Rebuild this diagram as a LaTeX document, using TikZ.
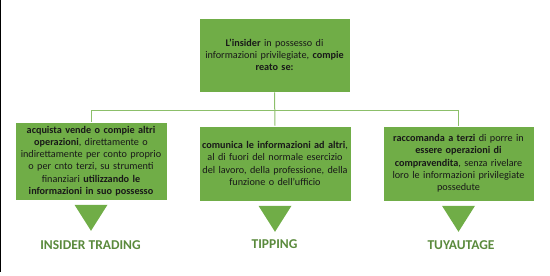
\documentclass[tikz,border=0pt]{standalone}
\usepackage{fontspec}
\setmainfont{Carlito}
\usepackage{tikz}
\usetikzlibrary{positioning,calc}
\definecolor{boxgreen}{HTML}{70AD47}
\definecolor{linegreen}{HTML}{8CBF6A}
\definecolor{labgreen}{HTML}{5A8A3C}

\begin{document}
\begin{tikzpicture}[x=1pt,y=-1pt,
  box/.style={fill=boxgreen,draw=white,line width=0.6pt,align=center,inner sep=1pt,
    font=\fontsize{10.2}{12.3}\selectfont,text=black!90},
  conn/.style={linegreen,line width=1pt},
  lab/.style={font=\fontsize{13.5}{16}\selectfont\bfseries,text=labgreen}]
\useasboundingbox (0,0) rectangle (550,276);
\draw[black,line width=1.2pt] (0.6,0) -- (0.6,272);
\node[box,text width=149,minimum height=74] (top) at (274.5,55)
  {\textbf{L'insider} in possesso di\\ informazioni privilegiate, \textbf{compie}\\ \textbf{reato se:}};
\node[box,text width=150,minimum height=78] (lbox) at (91,161)
  {\textbf{acquista vende o compie altri}\\ \textbf{operazioni}, direttamente o\\ indirettamente per conto proprio\\ o per cnto terzi, su strumenti\\ finanziari \textbf{utilizzando le}\\ \textbf{informazioni in suo possesso}};
\node[box,text width=150,minimum height=75] (mbox) at (275,163.5)
  {\textbf{comunica le informazioni ad altri},\\ al di fuori del normale esercizio\\ del lavoro, della professione, della\\ funzione o dell'ufficio};
\node[box,text width=149,minimum height=75] (rbox) at (458.5,163.5)
  {\textbf{raccomanda a terzi} di porre in\\ \textbf{essere operazioni di}\\ \textbf{compravendita}, senza rivelare\\ loro le informazioni privilegiate\\ possedute};
% connectors
\coordinate (jl) at (lbox.north |- 0,110);
\coordinate (jr) at (rbox.north |- 0,110);
\draw[conn] (top.south) -- (mbox.north);
\draw[conn] (jl) -- (jr);
\draw[conn] (jl) -- (lbox.north);
\draw[conn] (jr) -- (rbox.north);
% arrows and results
\foreach \b in {lbox,mbox,rbox}
  \fill[boxgreen] ($(\b.south)+(-16.5,4.5)$) -- ++(33,0) -- ++(-16.5,26) -- cycle;
\node[lab] (trading) at (90.5,245) {INSIDER TRADING};
\node[lab] (tipping) at (274.5,244) {TIPPING};
\node[lab] (tuyau) at (461,245) {TUYAUTAGE};
\end{tikzpicture}
\end{document}
